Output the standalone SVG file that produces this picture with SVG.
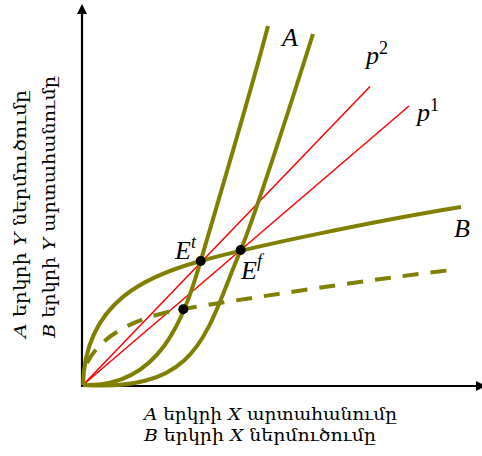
<svg xmlns="http://www.w3.org/2000/svg" width="482" height="456" viewBox="0 0 482 456">
  <style>
    .axis { stroke: #000; stroke-width: 2.2; fill: none; }
    .curve { stroke: #808000; stroke-width: 4; fill: none; stroke-linecap: butt; }
    .dashed { stroke: #808000; stroke-width: 4; fill: none; stroke-dasharray: 16 12; }
    .price { stroke: #ff0000; stroke-width: 1.5; fill: none; }
    .math { font-family: "Liberation Serif", "DejaVu Serif", serif; font-style: italic; font-size: 26px; fill: #000; }
    .sup { font-size: 18px; }
    .lab { font-family: "DejaVu Serif", "Liberation Serif", serif; font-size: 17px; fill: #000; }
    .it { font-style: italic; }
  </style>
  <defs>
    <marker id="arr" viewBox="0 0 10 10" refX="0" refY="5" markerWidth="10" markerHeight="11" markerUnits="userSpaceOnUse" orient="auto">
      <path d="M0,0 L10,5 L0,10 Z" fill="#000"/>
    </marker>
  </defs>

  <g id="axes">
    <line class="axis" x1="82" y1="386" x2="82" y2="14" marker-end="url(#arr)"/>
    <line class="axis" x1="81" y1="386" x2="476" y2="386" marker-end="url(#arr)"/>
  </g>

  <g id="connectors">
    <path id="p2-line" class="price" d="M83,385 L370,86.5"/>
    <path id="p1-line" class="price" d="M83,385 L409,106"/>
    <path id="curve-A1" class="curve" d="M83,385 C160,388 184,318 200.7,261 C212,222 250,95 268,26"/>
    <path id="curve-A2" class="curve" d="M83,385 C200,392 205,335 240.7,250 C255,216 300,75 313,34"/>
    <path id="curve-B" class="curve" d="M83,385 C85,300 150,275 200.7,261 C250,247 380,220 461,207"/>
    <path id="curve-B-dashed" class="dashed" d="M87,363 C100,338 130,318 183,309 S380,278 452,270"/>
  </g>

  <g id="point-Et">
    <circle cx="200.7" cy="261" r="5" fill="#000"/>
    <text class="math" x="175" y="259">E<tspan class="sup" dy="-11">t</tspan></text>
  </g>
  <g id="point-Ef">
    <circle cx="240.7" cy="250" r="5" fill="#000"/>
    <text class="math" x="241" y="279">E<tspan class="sup" dy="-12">f</tspan></text>
  </g>
  <g id="point-low">
    <circle cx="183.3" cy="309.3" r="5" fill="#000"/>
  </g>

  <g id="label-A"><text class="math" x="282" y="46">A</text></g>
  <g id="label-B"><text class="math" x="454" y="237">B</text></g>
  <g id="label-p2"><text class="math" x="366" y="64">p<tspan class="sup" font-style="normal" dy="-10">2</tspan></text></g>
  <g id="label-p1"><text class="math" x="417" y="121">p<tspan class="sup" font-style="normal" dy="-10">1</tspan></text></g>

  <g id="x-label">
    <text class="lab" x="144" y="420" textLength="253" lengthAdjust="spacingAndGlyphs"><tspan class="it">A</tspan> երկրի <tspan class="it">X</tspan> արտահանումը</text>
    <text class="lab" x="144" y="441" textLength="232" lengthAdjust="spacingAndGlyphs"><tspan class="it">B</tspan> երկրի <tspan class="it">X</tspan> ներմուծումը</text>
  </g>
  <g id="y-label">
    <text class="lab" transform="translate(26,338) rotate(-90)" x="0" y="0" textLength="248" lengthAdjust="spacingAndGlyphs"><tspan class="it">A</tspan> երկրի <tspan class="it">Y</tspan> ներմուծումը</text>
    <text class="lab" transform="translate(55,338) rotate(-90)" x="0" y="0" textLength="262" lengthAdjust="spacingAndGlyphs"><tspan class="it">B</tspan> երկրի <tspan class="it">Y</tspan> արտահանումը</text>
  </g>
</svg>
